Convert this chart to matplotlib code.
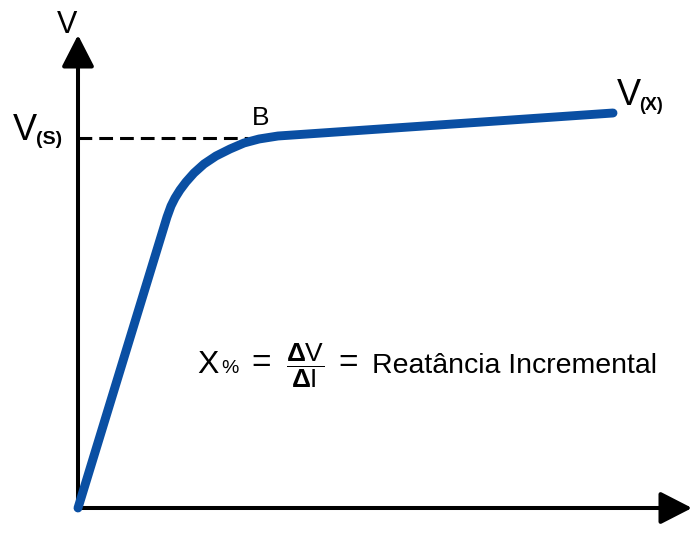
import matplotlib
matplotlib.use('Agg')
import matplotlib.pyplot as plt

# Curva de magnetizacao (coordenadas relativas a origem dos eixos)
corrente = [0, 89, 93, 97, 102, 108, 116, 126, 138, 152, 166, 181, 200,
            222, 535]
tensao = [0, 291, 302, 310, 318, 326, 335, 344, 352, 359, 365, 369, 372,
          373.5, 395]

# Ponto de joelho B e tensao de saturacao
i_joelho = 170
v_sat = 370

# Fim dos eixos
i_max = 614
v_max = 473

azul = '#0a4fa3'
fonte = 'Liberation Sans'
plt.rcParams['font.family'] = [fonte, 'DejaVu Sans']
plt.rcParams['mathtext.fontset'] = 'custom'
plt.rcParams['mathtext.rm'] = fonte
plt.rcParams['mathtext.bf'] = fonte + ':bold'

fig = plt.figure(figsize=(6.93, 5.45), dpi=100)
ax = fig.add_axes([0, 0, 1, 1])
ax.set_xlim(-78, 615)
ax.set_ylim(-37, 508)
ax.axis('off')

# eixos com setas
seta = dict(arrowstyle='-|>,head_length=1.95,head_width=1.0', lw=2.9,
            color='black', mutation_scale=10, shrinkA=0, shrinkB=0)
ax.annotate('', xy=(0, v_max), xytext=(0, -2), arrowprops=seta)
ax.annotate('', xy=(i_max, 0), xytext=(-2, 0), arrowprops=seta)

# linha tracejada ate o joelho
ax.plot([0, i_joelho], [v_sat, v_sat], color='black', lw=2.2,
        dashes=(4.5, 2.3))

# curva
ax.plot(corrente, tensao, color=azul, lw=6.4, solid_capstyle='round',
        solid_joinstyle='round', zorder=3)

# rotulos
ax.text(-11, 475, 'V', fontsize=22, ha='center', va='baseline')
ax.text(-65, 368, 'V', fontsize=26, ha='left', va='baseline')
ax.text(-42, 364, '(S)', fontsize=14, fontweight='bold', ha='left',
        va='baseline')
ax.text(174, 383, 'B', fontsize=19, ha='left', va='baseline')
ax.text(539, 403, 'V', fontsize=26, ha='left', va='baseline')
ax.text(561, 398, '(X)', fontsize=13, fontweight='bold', ha='left',
        va='baseline')

# formula
ax.text(119, 135, 'X', fontsize=23, ha='left', va='baseline')
ax.text(143, 135, '%', fontsize=14, ha='left', va='baseline')
ax.text(183, 145, '=', fontsize=24, ha='center', va='center')
ax.text(227, 142, r'$\dfrac{\mathbf{\Delta}\mathrm{V}}{\mathbf{\Delta}\mathrm{I}}$',
        fontsize=19, ha='center', va='center')
ax.text(270, 145, '=', fontsize=24, ha='center', va='center')
ax.text(294, 135, 'Reatância Incremental', fontsize=20.5, ha='left',
        va='baseline')

fig.savefig('out.png', dpi=100)
